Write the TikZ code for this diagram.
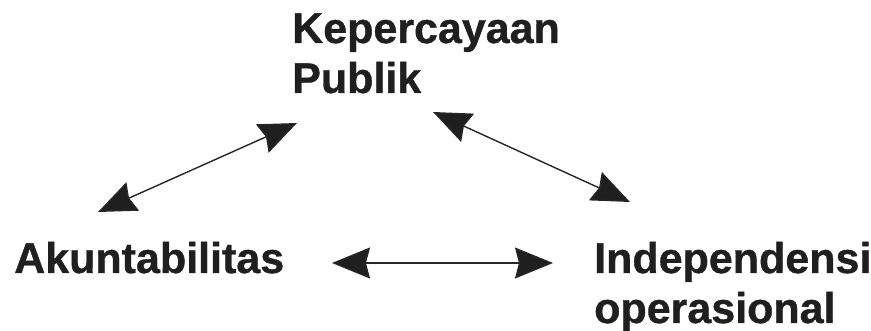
\documentclass[tikz,border=0pt]{standalone}
\usepackage{fontspec}
\setmainfont{Liberation Sans}[BoldFeatures={FakeBold=0.8}]
\usetikzlibrary{arrows.meta}
\tikzset{
  lbl/.style={anchor=base west, inner sep=0pt, align=left,
    font=\fontsize{43}{50}\selectfont\bfseries, text=black!88},
  twoway/.style={line width=1.4pt, draw=black!85,
    {Stealth[length=38pt,width=31pt,inset=4pt,fill=black!88]}-{Stealth[length=38pt,width=31pt,inset=4pt,fill=black!88]}}
}
\begin{document}
\begin{tikzpicture}[x=1pt,y=-1pt]
\useasboundingbox (0,0) rectangle (871,331);
\node[lbl] (kep) at (292,93) {Kepercayaan\\Publik};
\node[lbl] (akun) at (14,273) {Akuntabilitas};
\node[lbl] (indep) at (594,323) {Independensi\\operasional};
\coordinate (a1) at (98,212);
\coordinate (k1) at (297,123);
\coordinate (k2) at (433,112);
\coordinate (i1) at (630,202);
\coordinate (a2) at (332,263);
\coordinate (i2) at (553,263);
\draw[twoway] (a1) -- (k1);
\draw[twoway] (k2) -- (i1);
\draw[twoway] (a2) -- (i2);
\end{tikzpicture}
\end{document}
